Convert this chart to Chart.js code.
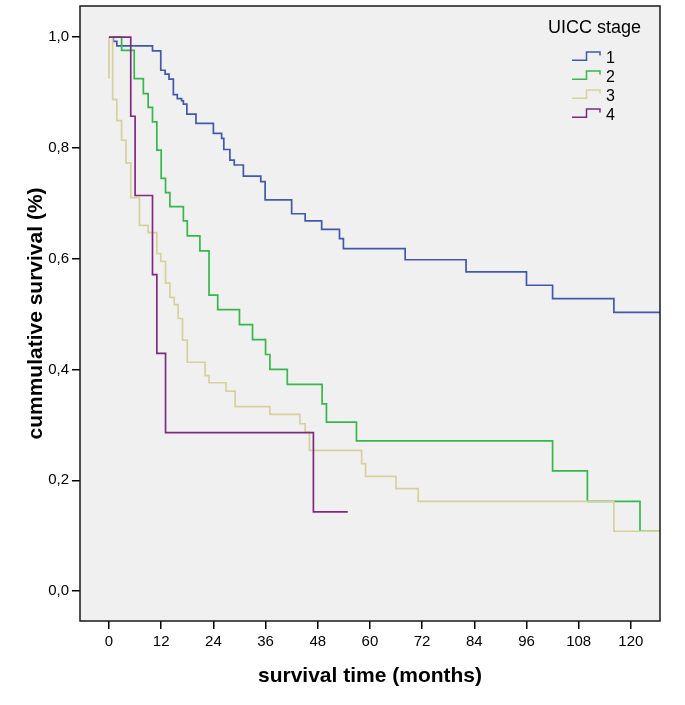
<!DOCTYPE html>
<html>
<head>
<meta charset="utf-8">
<title>Cumulative survival by UICC stage</title>
<script src="https://cdn.jsdelivr.net/npm/chart.js@4.4.1/dist/chart.umd.min.js"></script>
<style>
	html, body { margin: 0; padding: 0; background: #fff; }
	#km-chart { display: block; }
</style>
</head>
<body>
<canvas id="km-chart" width="685" height="705"></canvas>
<script>
// event times (months) and survival right after each step
var stage1Months = [0, 1.0, 1.8, 10.0, 11.9, 12.9, 13.8, 14.8, 15.7, 16.7, 17.1, 17.9, 20.0, 24.0, 25.9, 26.4, 27.8, 28.8, 30.9, 34.9, 35.9, 42.0, 45.1, 48.9, 53.0, 53.9, 68.1, 82.1, 96.0, 102.0, 116.1, 126.7];
var stage1Survival = [1.0, 0.992, 0.984, 0.975, 0.940, 0.933, 0.924, 0.896, 0.889, 0.885, 0.879, 0.861, 0.844, 0.826, 0.817, 0.797, 0.778, 0.769, 0.749, 0.739, 0.706, 0.681, 0.668, 0.653, 0.636, 0.618, 0.598, 0.576, 0.552, 0.528, 0.503, 0.503];

var stage2Months = [0, 2.9, 5.8, 7.9, 9.0, 10.0, 11.0, 12.0, 13.0, 14.0, 17.1, 18.0, 20.9, 23.0, 25.0, 30.0, 33.0, 36.0, 37.0, 41.0, 49.0, 50.0, 56.9, 102.0, 110.0, 122.1, 126.7];
var stage2Survival = [1.0, 0.976, 0.925, 0.898, 0.873, 0.847, 0.796, 0.745, 0.719, 0.694, 0.668, 0.641, 0.614, 0.534, 0.508, 0.481, 0.454, 0.427, 0.400, 0.373, 0.338, 0.305, 0.271, 0.217, 0.162, 0.108, 0.108];

var stage3Months = [0, 0, 0.84, 1.8, 2.9, 3.9, 5.0, 7.0, 9.0, 11.0, 11.9, 13.0, 14.0, 15.0, 15.9, 16.9, 18.0, 22.1, 23.0, 26.9, 29.0, 37.0, 43.9, 45.1, 46.1, 58.1, 59.0, 66.0, 71.1, 116.1, 126.7];
var stage3Survival = [0.925, 1.0, 0.887, 0.849, 0.814, 0.773, 0.710, 0.660, 0.647, 0.609, 0.595, 0.556, 0.530, 0.517, 0.492, 0.453, 0.413, 0.389, 0.376, 0.361, 0.333, 0.319, 0.302, 0.287, 0.254, 0.230, 0.207, 0.185, 0.162, 0.108, 0.108];

var stage4Months = [0, 5.0, 6.0, 10.0, 11.0, 13.0, 47.0, 54.9];
var stage4Survival = [1.0, 0.857, 0.714, 0.571, 0.429, 0.286, 0.143, 0.143];

var stageLabels = ["1", "2", "3", "4"];
var legendTitle = "UICC stage";
var xTicks = [0, 12, 24, 36, 48, 60, 72, 84, 96, 108, 120];
var yTicks = [0, 0.2, 0.4, 0.6, 0.8, 1.0];

var stageColors = ["#4058ae", "#35b84a", "#d6d19c", "#7f2a80"];
var fontFamily = '"Liberation Sans", Arial, sans-serif';

Chart.defaults.font.family = fontFamily;
Chart.defaults.color = "#000";

function steps(months, survival) {
	return months.map(function(m, i) {
		return { x: m, y: survival[i] };
	});
}

var allMonths = [stage1Months, stage2Months, stage3Months, stage4Months];
var allSurvival = [stage1Survival, stage2Survival, stage3Survival, stage4Survival];

var datasets = stageLabels.map(function(label, i) {
	return {
		label: label,
		data: steps(allMonths[i], allSurvival[i]),
		borderColor: stageColors[i],
		borderWidth: 1.7,
		stepped: true,
		pointRadius: 0,
		fill: false,
		order: stageLabels.length - i
	};
});

// grey plot background and the frame round it
var plotFrame = {
	id: "plotFrame",
	beforeDraw: function(chart) {
		var a = chart.chartArea, ctx = chart.ctx;
		ctx.save();
		ctx.fillStyle = "#f0f0f0";
		ctx.fillRect(a.left, a.top, a.right - a.left, a.bottom - a.top);
		ctx.restore();
	},
	afterDatasetsDraw: function(chart) {
		var a = chart.chartArea, ctx = chart.ctx;
		ctx.save();
		ctx.strokeStyle = "#1a1a1a";
		ctx.lineWidth = 1.5;
		ctx.strokeRect(a.left, a.top, a.right - a.left, a.bottom - a.top);
		ctx.restore();
	}
};

// SPSS style legend with little step icons
var stageLegend = {
	id: "stageLegend",
	afterDraw: function(chart) {
		var a = chart.chartArea, ctx = chart.ctx;
		var right = a.right - 19;
		ctx.save();
		ctx.fillStyle = "#000";
		ctx.font = "18px " + fontFamily;
		ctx.textAlign = "right";
		ctx.textBaseline = "alphabetic";
		ctx.fillText(legendTitle, right, a.top + 27);

		chart.data.datasets.forEach(function(ds, i) {
			var base = a.top + 57 + i * 19;
			var x0 = right - 69, xm = right - 54.5, x1 = right - 41;
			ctx.strokeStyle = ds.borderColor;
			ctx.lineWidth = 1.5;
			ctx.beginPath();
			ctx.moveTo(x0, base - 2.7);
			ctx.lineTo(xm, base - 2.7);
			ctx.lineTo(xm, base - 11);
			ctx.lineTo(x1, base - 11);
			ctx.lineTo(x1, base - 7.5);
			ctx.stroke();
			ctx.fillStyle = "#000";
			ctx.font = "16px " + fontFamily;
			ctx.textAlign = "left";
			ctx.fillText(ds.label, right - 35, base);
		});
		ctx.restore();
	}
};

var tickGrid = {
	drawOnChartArea: false,
	drawTicks: true,
	tickLength: 8,
	color: "#000",
	lineWidth: 1.5
};

var chart = new Chart(document.getElementById("km-chart"), {
	type: "line",
	data: { datasets: datasets },
	options: {
		responsive: false,
		animation: false,
		devicePixelRatio: 1,
		layout: { padding: { top: 6, right: 25, bottom: 0, left: 0 } },
		plugins: {
			legend: { display: false },
			tooltip: { enabled: false }
		},
		scales: {
			x: {
				type: "linear",
				min: -6.67,
				max: 126.7,
				afterBuildTicks: function(axis) {
					axis.ticks = xTicks.map(function(v) { return { value: v }; });
				},
				afterFit: function(axis) {
					axis.height = 84;
					axis.paddingLeft = 0;
					axis.paddingRight = 0;
				},
				ticks: { font: { size: 15 }, color: "#000", padding: 4, maxRotation: 0 },
				grid: tickGrid,
				border: { display: false },
				title: {
					display: true,
					text: "survival time (months)",
					color: "#000",
					font: { size: 21, weight: "bold" },
					padding: { top: 0, bottom: 16 }
				}
			},
			y: {
				type: "linear",
				min: -0.054,
				max: 1.056,
				afterBuildTicks: function(axis) {
					axis.ticks = yTicks.map(function(v) { return { value: v }; });
				},
				afterFit: function(axis) {
					axis.width = 80;
					axis.paddingTop = 0;
					axis.paddingBottom = 0;
				},
				ticks: {
					font: { size: 15 },
					color: "#000",
					padding: 3,
					callback: function(v) { return v.toFixed(1).replace(".", ","); }
				},
				grid: tickGrid,
				border: { display: false },
				title: {
					display: true,
					text: "cummulative survival (%)",
					color: "#000",
					font: { size: 21, weight: "bold" },
					padding: { top: 24, bottom: 0 }
				}
			}
		}
	},
	plugins: [plotFrame, stageLegend]
});
</script>
</body>
</html>
